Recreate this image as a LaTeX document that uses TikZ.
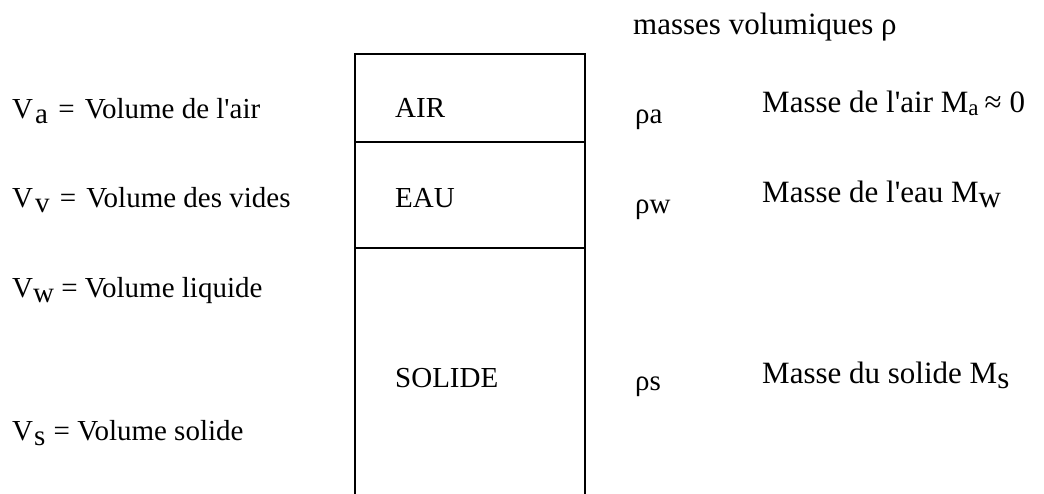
\documentclass[tikz,border=0pt]{standalone}
\usepackage{fontspec}
\setmainfont{Liberation Serif}
% lowered subscripts, typewriter-document style
\newcommand\lowsub[1]{\raisebox{-5pt}{#1}}
\newcommand\smallsub[1]{\raisebox{-3pt}{\fontsize{23}{23}\selectfont #1}}
\newcommand\apos{\textquotesingle}
\begin{document}
\begin{tikzpicture}[x=1pt,y=-1pt,
  lbl/.style={anchor=base west,inner sep=0pt,font=\fontsize{29}{34}\selectfont},
  rlbl/.style={lbl,font=\fontsize{31}{36}\selectfont},
  wall/.style={line width=1.7pt,line cap=rect}]
\useasboundingbox (0,0) rectangle (1044,493);

% column of the soil phases (open at the bottom)
\coordinate (bl) at (355,493);
\coordinate (tl) at (355,54);
\coordinate (tr) at (585,54);
\coordinate (br) at (585,493);
\coordinate (aw-l) at (355,142);
\coordinate (aw-r) at (585,142);
\coordinate (ws-l) at (355,248);
\coordinate (ws-r) at (585,248);
\draw[wall] (bl) -- (tl) -- (tr) -- (br);
\draw[wall] (aw-l) -- (aw-r);
\draw[wall] (ws-l) -- (ws-r);

% phase names
\node[lbl] (air) at (395,117) {AIR};
\node[lbl] (eau) at (395,207) {EAU};
\node[lbl] (solide) at (395,387) {SOLIDE};

% volumes
\node[lbl] (va) at (12,118) {V\kern2pt\lowsub{a} \kern3pt= \kern3pt Volume de l\apos air};
\node[lbl] (vv) at (12,207) {V\kern2pt\lowsub{v} \kern3pt= \kern3pt Volume des vides};
\node[lbl] (vw) at (12,297) {V\lowsub{w} = Volume liquide};
\node[lbl] (vs) at (12,440) {V\kern1pt\lowsub{s} \kern1pt= Volume solide};

% densities
\node[lbl,font=\fontsize{31}{36}\selectfont] (rho) at (633,34) {masses volumiques ρ};
\node[lbl] (rhoa) at (635,123) {ρa};
\node[lbl] (rhow) at (635,213) {ρw};
\node[lbl] (rhos) at (635,390) {ρs};

% masses
\node[rlbl] (ma) at (762,112) {Masse de l\apos air M\smallsub{a}\kern6pt ≈\kern8pt 0};
\node[rlbl] (mw) at (762,202) {Masse de l\apos eau M\lowsub{w}};
\node[rlbl] (ms) at (762,383) {Masse du solide M\lowsub{s}};
\end{tikzpicture}
\end{document}
